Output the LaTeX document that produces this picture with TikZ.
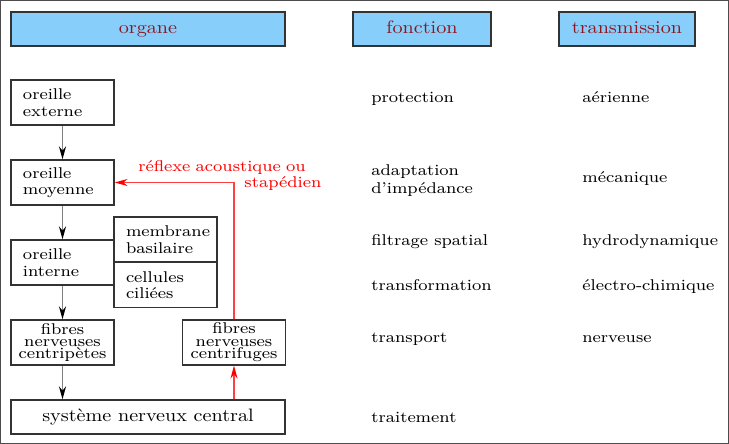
\documentclass[tikz,border=0pt]{standalone}
\usepackage{fontspec}
\usetikzlibrary{arrows.meta}

\setmainfont{lmroman10-regular}[Extension = .otf, FakeStretch = 1.12]
\newfontfamily\smallfnt{lmroman8-regular}[Extension = .otf, FakeStretch = 1.12]

\definecolor{headblue}{RGB}{135,206,250}
\definecolor{headred}{RGB}{140,22,32}

\begin{document}
\begin{tikzpicture}[x = 0.5pt, y = -0.5pt,
	box/.style = {draw = black!80, line width = 0.6pt, inner xsep = 6pt, inner ysep = 0pt, text width = 39.5pt, minimum height = 22.5pt, align = left, font = \smallfnt\fontsize{7.8}{8.2}\selectfont},
	fibre/.style = {draw = black!80, line width = 0.6pt, inner sep = 0pt, minimum width = 51.5pt, minimum height = 22.5pt, align = center, font = {\smallfnt\fontsize{7.8}{6.2}\selectfont\lineskiplimit = -5pt}},
	head/.style = {draw = black!80, line width = 0.6pt, minimum height = 17pt, inner sep = 0pt, text height = 6pt, text depth = 1.8pt, font = \fontsize{9}{10}\selectfont},
	item/.style = {anchor = base west, inner sep = 0pt, align = left, font = \smallfnt\fontsize{7.8}{8.6}\selectfont},
	flow/.style = {draw = black!50, line width = 0.9pt, -{Stealth[black, length = 6.5pt, width = 3.5pt]}},
	reflex/.style = {draw = red!75, line width = 0.7pt, -{Stealth[red, length = 6.5pt, width = 3.5pt]}}
]

	% Frame

	\useasboundingbox (0, 0) rectangle (729, 444);
	\draw [black!70, line width = 0.6pt] (0.5, 0.5) rectangle (728.5, 443.5);

	% Headers

	\node [head, fill = headblue, text = headred, minimum width = 137pt] (organe) at (148, 29) {organe};
	\node [head, fill = headblue, text = headred, minimum width = 69pt] (fonction) at (422, 29) {fonction};
	\node [head, fill = headblue, text = headred, minimum width = 68pt] (transmission) at (627, 29) {transmission};

	% Organs

	\node [box] (externe) at (62.5, 102.5) {oreille\\externe};
	\node [box] (moyenne) at (62.5, 182.5) {oreille\\moyenne};
	\node [box] (interne) at (62.5, 262.5) {oreille\\interne};
	\node [box] (membrane) at (165.5, 239.5) {membrane\\basilaire};
	\node [box, minimum height = 22.75pt] (cellules) at (165.5, 285) {cellules\\ciliées};
	\node [fibre] (centripetes) at (62.5, 342.5) {fibres\\nerveuses\\centripètes};
	\node [fibre] (centrifuges) at (234, 342.5) {fibres\\nerveuses\\centrifuges};
	\node [head, minimum width = 137pt] (snc) at (148, 417) {système nerveux central};

	% Functions

	\node [item] (protection) at (371, 102.7) {protection};
	\node [item, anchor = west] (adaptation) at (371, 180.7) {adaptation\\d’impédance};
	\node [item] (filtrage) at (371, 246) {filtrage spatial};
	\node [item] (transformation) at (371, 290.7) {transformation};
	\node [item] (transport) at (371, 342) {transport};
	\node [item] (traitement) at (371, 422) {traitement};

	% Transmissions

	\node [item] (aerienne) at (582, 102.7) {aérienne};
	\node [item] (mecanique) at (582, 182.3) {mécanique};
	\node [item] (hydro) at (582, 246) {hydrodynamique};
	\node [item] (electro) at (582, 290.7) {électro-chimique};
	\node [item] (nerveuse) at (582, 342) {nerveuse};

	% Ascending path

	\draw [flow] (externe) -- (moyenne);
	\draw [flow] (moyenne) -- (interne);
	\draw [flow] (interne) -- (centripetes);
	\draw [flow] (centripetes) -- (centripetes |- snc.north);

	% Reflex loop

	\draw [reflex] (centrifuges |- snc.north) -- (centrifuges);
	\draw [reflex] (centrifuges) |- (moyenne);
	\node [red, anchor = north west, inner sep = 0pt, text width = 91.5pt, align = left, font = \smallfnt\fontsize{7.8}{8.2}\selectfont] (reflexe) at (138, 160) {réflexe acoustique ou\\\hfill stapédien};

\end{tikzpicture}
\end{document}
